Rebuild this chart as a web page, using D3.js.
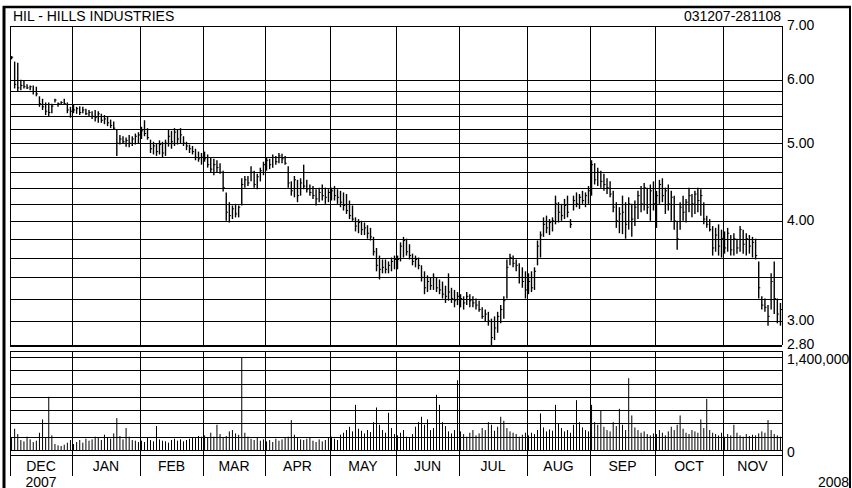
<!DOCTYPE html>
<html>
<head>
<meta charset="utf-8">
<script src="https://cdn.jsdelivr.net/npm/d3@7"></script>
<style>
  body { margin: 0; background: #fff; }
  text { font-family: "Liberation Sans", Arial, sans-serif; font-size: 14px; fill: #000; }
</style>
</head>
<body>
<div id="chart"></div>
<script>
// months shown on the x axis and how many trading days each one holds
var months = ["DEC", "JAN", "FEB", "MAR", "APR", "MAY", "JUN", "JUL", "AUG", "SEP", "OCT", "NOV"];
var monthDays = [20, 22, 21, 20, 21, 22, 21, 22, 21, 21, 23, 19];
var years = ["2007", "2008"];

// daily bars: [high, low, close]
var hlc = [
  // dec
  [6.42,6.36,6.40],[6.32,5.85,5.92],[6.30,5.80,5.86],[6.00,5.82,5.90],[5.98,5.85,5.88],[5.92,5.84,5.86],[5.90,5.82,5.88],[5.90,5.75,5.80],[5.88,5.72,5.76],[5.72,5.55,5.60],
  [5.68,5.50,5.55],[5.62,5.42,5.48],[5.62,5.40,5.46],[5.60,5.45,5.56],[5.68,5.62,5.66],[5.62,5.55,5.60],[5.64,5.58,5.62],[5.68,5.58,5.60],[5.62,5.45,5.50],[5.55,5.38,5.48],
  // jan
  [5.58,5.45,5.50],[5.55,5.44,5.52],[5.56,5.42,5.46],[5.55,5.45,5.50],[5.52,5.42,5.44],[5.50,5.40,5.46],[5.48,5.36,5.40],[5.50,5.32,5.38],[5.48,5.30,5.44],[5.44,5.30,5.34],[5.42,5.28,5.36],
  [5.40,5.25,5.30],[5.35,5.22,5.26],[5.32,5.20,5.22],[5.20,4.82,5.00],[5.12,4.98,5.06],[5.10,5.00,5.02],[5.08,4.95,5.04],[5.12,4.94,5.00],[5.10,4.96,5.06],[5.14,4.98,5.10],[5.16,5.00,5.12],
  // feb
  [5.24,5.06,5.18],[5.34,5.10,5.14],[5.22,5.05,5.08],[5.05,4.86,4.92],[5.02,4.84,4.96],[5.00,4.82,4.88],[5.04,4.84,4.98],[5.02,4.80,4.86],[5.05,4.82,5.00],[5.20,4.95,5.10],[5.18,4.92,5.02],
  [5.22,4.96,5.16],[5.20,4.98,5.06],[5.22,5.00,5.12],[5.10,4.96,5.00],[5.02,4.90,4.96],[4.98,4.86,4.92],[4.96,4.84,4.88],[4.92,4.76,4.80],[4.88,4.74,4.78],[4.86,4.70,4.80],
  // mar
  [4.88,4.74,4.78],[4.84,4.66,4.70],[4.80,4.60,4.64],[4.78,4.56,4.70],[4.76,4.60,4.66],[4.72,4.58,4.60],[4.62,4.35,4.40],[4.34,4.00,4.10],[4.22,3.98,4.06],[4.18,4.02,4.14],
  [4.20,4.04,4.08],[4.18,4.04,4.16],[4.52,4.18,4.44],[4.55,4.40,4.50],[4.55,4.42,4.46],[4.68,4.48,4.60],[4.62,4.40,4.44],[4.58,4.38,4.54],[4.66,4.48,4.62],[4.74,4.56,4.70],
  // apr
  [4.80,4.62,4.76],[4.78,4.64,4.70],[4.84,4.66,4.80],[4.82,4.70,4.74],[4.86,4.72,4.82],[4.85,4.72,4.78],[4.82,4.70,4.72],[4.68,4.40,4.46],[4.48,4.30,4.36],[4.55,4.28,4.50],[4.50,4.22,4.30],
  [4.52,4.30,4.46],[4.70,4.38,4.42],[4.50,4.34,4.38],[4.44,4.30,4.34],[4.42,4.26,4.30],[4.38,4.18,4.26],[4.40,4.22,4.34],[4.44,4.24,4.30],[4.40,4.20,4.28],[4.38,4.22,4.34],
  // may
  [4.40,4.24,4.36],[4.42,4.24,4.30],[4.38,4.20,4.28],[4.36,4.16,4.22],[4.34,4.12,4.18],[4.32,4.08,4.12],[4.24,4.02,4.06],[4.18,4.00,4.02],[4.04,3.88,3.94],[4.02,3.86,3.98],[4.00,3.84,3.90],
  [3.98,3.84,3.92],[3.95,3.80,3.86],[3.92,3.78,3.82],[3.82,3.62,3.66],[3.70,3.46,3.52],[3.62,3.38,3.48],[3.58,3.44,3.50],[3.58,3.44,3.48],[3.56,3.44,3.52],[3.60,3.46,3.56],[3.62,3.48,3.58],
  // jun
  [3.62,3.48,3.58],[3.76,3.56,3.72],[3.82,3.60,3.78],[3.80,3.62,3.66],[3.74,3.58,3.62],[3.64,3.52,3.56],[3.62,3.50,3.58],[3.60,3.48,3.52],[3.52,3.36,3.40],[3.46,3.24,3.30],[3.42,3.26,3.36],
  [3.40,3.28,3.32],[3.44,3.28,3.40],[3.40,3.26,3.30],[3.38,3.24,3.28],[3.36,3.20,3.24],[3.32,3.16,3.22],[3.44,3.18,3.26],[3.30,3.16,3.20],[3.28,3.12,3.18],[3.26,3.14,3.22],
  // jul
  [3.24,3.12,3.20],[3.22,3.10,3.16],[3.26,3.14,3.22],[3.24,3.12,3.18],[3.22,3.12,3.16],[3.20,3.10,3.14],[3.18,3.08,3.10],[3.12,3.02,3.04],[3.10,3.00,3.06],[3.08,2.96,3.00],[3.02,2.80,2.86],
  [3.04,2.84,2.94],[3.08,2.90,3.04],[3.14,2.98,3.10],[3.22,3.02,3.18],[3.58,3.20,3.50],[3.64,3.52,3.60],[3.62,3.50,3.54],[3.58,3.46,3.52],[3.54,3.34,3.40],[3.50,3.30,3.36],[3.46,3.20,3.28],
  // aug
  [3.44,3.24,3.36],[3.46,3.26,3.30],[3.50,3.28,3.46],[3.78,3.52,3.72],[3.88,3.60,3.84],[4.04,3.82,3.96],[4.06,3.86,3.92],[4.02,3.84,3.98],[4.04,3.88,4.00],[4.30,3.96,4.20],[4.22,3.98,4.10],
  [4.20,4.00,4.06],[4.26,4.02,4.18],[4.30,4.04,4.10],[4.02,3.92,3.96],[4.30,4.12,4.24],[4.34,4.16,4.20],[4.32,4.14,4.28],[4.36,4.20,4.24],[4.34,4.16,4.30],[4.42,4.20,4.36],
  // sep
  [4.76,4.30,4.70],[4.72,4.44,4.50],[4.66,4.42,4.60],[4.62,4.40,4.48],[4.58,4.36,4.44],[4.52,4.32,4.40],[4.48,4.28,4.32],[4.36,4.10,4.16],[4.22,3.92,4.00],[4.16,3.86,4.08],[4.30,3.85,4.10],
  [4.22,3.80,3.96],[4.28,3.90,4.20],[4.20,3.82,4.02],[4.24,3.94,4.16],[4.36,4.02,4.30],[4.42,4.10,4.20],[4.46,4.12,4.40],[4.40,4.08,4.16],[4.44,4.00,4.36],[4.48,4.12,4.20],
  // oct
  [4.36,3.92,4.30],[4.50,4.20,4.44],[4.52,4.22,4.30],[4.40,4.08,4.36],[4.44,4.12,4.20],[4.36,4.00,4.28],[4.30,3.90,4.00],[4.00,3.68,3.80],[4.22,3.90,4.16],[4.30,4.00,4.10],[4.26,3.98,4.22],[4.40,4.10,4.30],
  [4.32,4.04,4.20],[4.36,4.08,4.32],[4.40,4.10,4.24],[4.38,4.06,4.30],[4.22,3.96,4.02],[4.06,3.92,3.96],[4.02,3.88,3.90],[3.94,3.62,3.70],[3.92,3.66,3.84],[3.96,3.62,3.72],[3.90,3.60,3.80],
  // nov
  [3.88,3.64,3.70],[3.92,3.66,3.86],[3.84,3.62,3.68],[3.86,3.62,3.80],[3.80,3.64,3.70],[3.94,3.66,3.90],[3.90,3.64,3.74],[3.86,3.62,3.80],[3.84,3.64,3.72],[3.82,3.60,3.76],
  [3.80,3.58,3.62],[3.56,3.20,3.30],[3.22,3.10,3.14],[3.20,3.08,3.12],[3.14,2.96,3.04],[3.44,3.10,3.36],[3.56,3.06,3.20],[3.20,2.98,3.06],[3.16,2.96,3.10]
];

// daily volume, thousands of shares
var volume = [
  180,320,240,150,130,200,160,120,140,260,460,180,800,220,90,70,60,80,110,150,
  90,120,150,110,170,140,160,200,180,150,230,190,170,250,480,210,160,330,200,150,140,120,
  140,120,180,150,130,360,160,140,130,110,150,170,140,160,130,150,170,190,180,210,200,
  220,180,260,200,380,240,190,210,280,300,250,230,1390,260,200,170,150,190,140,160,
  130,150,120,170,140,160,180,200,450,230,180,160,150,170,190,140,120,160,130,150,180,
  200,170,150,230,260,300,350,280,680,320,290,250,300,270,420,640,380,300,260,560,330,240,
  220,260,300,200,180,240,350,420,500,380,460,300,330,830,680,420,360,280,250,300,1050,
  280,240,200,260,300,220,250,330,300,420,380,290,350,500,440,330,280,260,240,200,230,260,
  220,260,240,300,550,340,280,310,290,680,400,330,280,300,260,380,750,420,340,300,280,
  680,420,380,600,350,300,280,420,360,620,380,300,1080,520,340,300,260,280,240,220,250,
  240,300,260,220,280,350,300,380,520,320,260,240,300,280,260,460,330,770,300,260,240,220,260,
  200,240,220,380,260,220,200,240,210,230,220,250,280,260,450,300,240,220,200
];

var priceTicks = [7.00, 6.00, 5.00, 4.00, 3.00, 2.80];
var priceGrid = [2.8, 3.0, 3.2, 3.4, 3.6, 3.8, 4.0, 4.2, 4.4, 4.6, 4.8, 5.0, 5.2, 5.4, 5.6, 5.8, 6.0, 7.0];
var volTicks = [0, 1400000];
var volGrid = [0, 200000, 400000, 600000, 800000, 1000000, 1200000, 1400000];

var width = 852, height = 488;
var left = 10, right = 782;

var svg = d3.select("#chart").append("svg")
    .attr("width", width)
    .attr("height", height);
svg.append("rect").attr("width", width).attr("height", height).attr("fill", "#fff");

// month start positions (cumulative trading days)
var starts = [0];
monthDays.forEach(function (d, i) { starts.push(starts[i] + d); });

var x = d3.scaleLinear()
    .domain(starts)
    .range([10, 72, 140, 203, 265, 330, 396, 459, 527, 590, 655, 723, 782]);

var y = d3.scaleLog().domain([2.8, 7]).range([345, 26]);
var yv = d3.scaleLinear().domain([0, 1400000]).range([450, 357]);

// outer frame
svg.append("line").attr("x1", 4).attr("x2", 4).attr("y1", 6).attr("y2", height).attr("stroke", "#000").attr("stroke-width", 3);
svg.append("line").attr("x1", 3).attr("x2", 851).attr("y1", 7).attr("y2", 7).attr("stroke", "#000").attr("stroke-width", 2.5);
svg.append("line").attr("x1", 850).attr("x2", 850).attr("y1", 6).attr("y2", height).attr("stroke", "#000").attr("stroke-width", 2);

svg.append("text").attr("x", 13).attr("y", 21).text("HIL - HILLS INDUSTRIES");
svg.append("text").attr("x", 781).attr("y", 21).attr("text-anchor", "end").text("031207-281108");

var grid = svg.append("g").attr("stroke", "#000").attr("stroke-width", 1).attr("shape-rendering", "crispEdges");

// price grid
grid.selectAll(".pg").data(priceGrid).enter().append("line")
    .attr("x1", left).attr("x2", right)
    .attr("y1", function (d) { return Math.round(y(d)) + 0.5; })
    .attr("y2", function (d) { return Math.round(y(d)) + 0.5; });
grid.append("line").attr("x1", left).attr("x2", right).attr("y1", 345.5).attr("y2", 345.5).attr("stroke-width", 2);

// volume grid
grid.selectAll(".vg").data(volGrid).enter().append("line")
    .attr("x1", left).attr("x2", right)
    .attr("y1", function (d) { return Math.round(yv(d)) + 0.5; })
    .attr("y2", function (d) { return Math.round(yv(d)) + 0.5; });
grid.append("line").attr("x1", left).attr("x2", right).attr("y1", 351.5).attr("y2", 351.5);
grid.append("line").attr("x1", left).attr("x2", right).attr("y1", 455.5).attr("y2", 455.5);

// month lines, both panes and the label row
grid.selectAll(".mg").data(starts).enter().append("line")
    .attr("x1", function (d) { return Math.round(x(d)) + 0.5; })
    .attr("x2", function (d) { return Math.round(x(d)) + 0.5; })
    .attr("y1", 26).attr("y2", 345);
grid.selectAll(".mv").data(starts).enter().append("line")
    .attr("x1", function (d) { return Math.round(x(d)) + 0.5; })
    .attr("x2", function (d) { return Math.round(x(d)) + 0.5; })
    .attr("y1", 351).attr("y2", 476);

// price bars
var bars = svg.append("g").attr("stroke", "#000").attr("stroke-width", 1.4);
bars.selectAll(".hl").data(hlc).enter().append("line")
    .attr("x1", function (d, i) { return x(i + 0.5); })
    .attr("x2", function (d, i) { return x(i + 0.5); })
    .attr("y1", function (d) { return y(d[0]); })
    .attr("y2", function (d) { return y(d[1]); });
bars.selectAll(".cl").data(hlc).enter().append("line")
    .attr("x1", function (d, i) { return x(i + 0.5); })
    .attr("x2", function (d, i) { return x(i + 0.5) + 1.6; })
    .attr("y1", function (d) { return y(d[2]); })
    .attr("y2", function (d) { return y(d[2]); })
    .attr("stroke-width", 1);

// volume bars
svg.append("g").attr("stroke", "#000").attr("stroke-width", 1)
  .selectAll("line").data(volume).enter().append("line")
    .attr("x1", function (d, i) { return x(i + 0.5); })
    .attr("x2", function (d, i) { return x(i + 0.5); })
    .attr("y1", yv(0))
    .attr("y2", function (d) { return yv(d * 1000); });

// right labels
svg.selectAll(".pt").data(priceTicks).enter().append("text")
    .attr("x", 787).attr("y", function (d) { return y(d); }).attr("dy", "0.32em")
    .text(function (d) { return d.toFixed(2); });
svg.selectAll(".vt").data(volTicks).enter().append("text")
    .attr("x", 787).attr("y", function (d) { return yv(d) + 1.5; }).attr("dy", "0.36em")
    .text(function (d) { return d3.format(",")(d); });

// month labels
svg.selectAll(".ml").data(months).enter().append("text")
    .attr("x", function (d, i) { return (x(starts[i]) + x(starts[i + 1])) / 2; })
    .attr("y", 470.5).attr("text-anchor", "middle")
    .text(function (d) { return d; });
svg.append("text").attr("x", (x(starts[0]) + x(starts[1])) / 2).attr("y", 486.5).attr("text-anchor", "middle").text(years[0]);
svg.append("text").attr("x", 818).attr("y", 486.5).text(years[1]);
</script>
</body>
</html>
